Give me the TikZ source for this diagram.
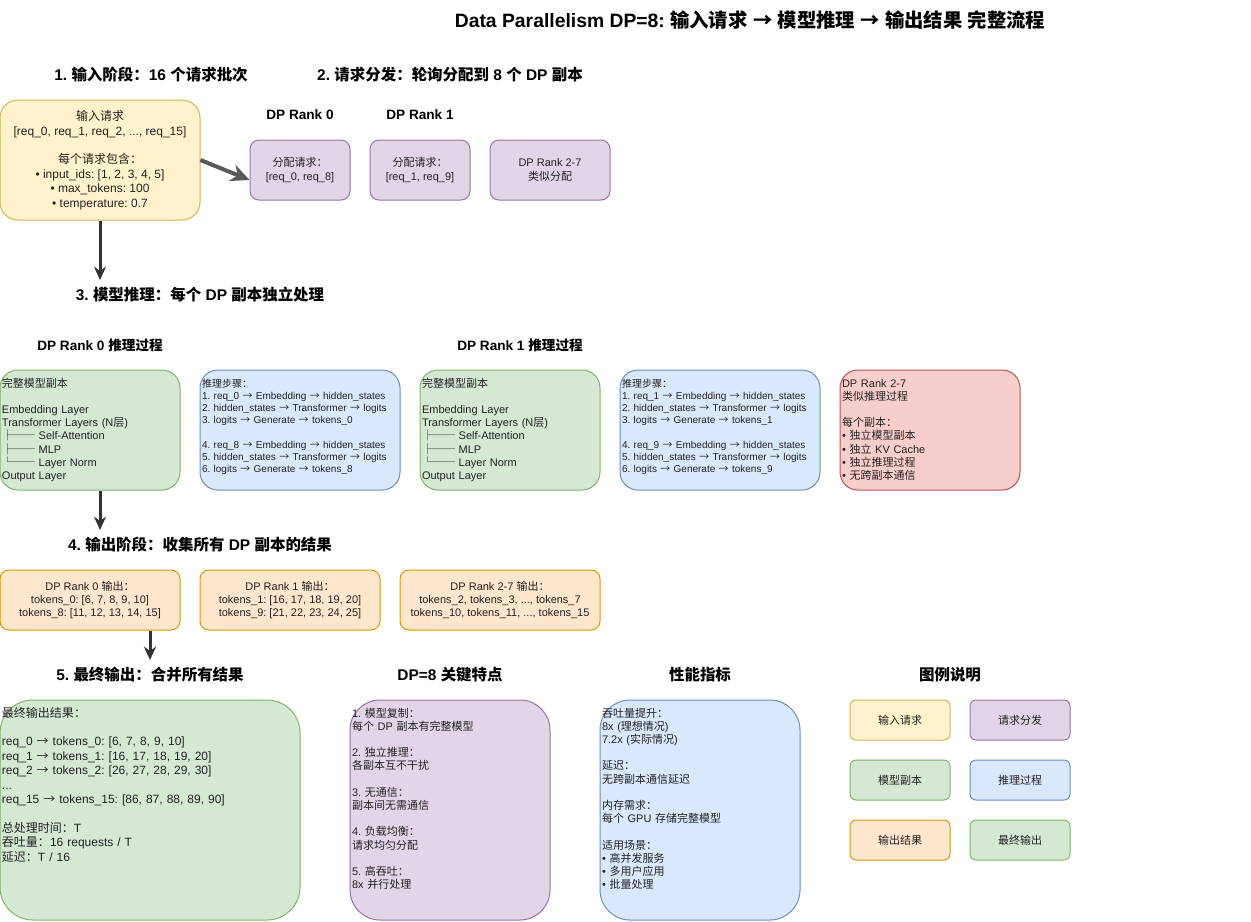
\documentclass[tikz,border=0pt]{standalone}
\usepackage{fontspec}
\setmainfont{Liberation Sans}
\newfontfamily\cjkfont{Noto Sans CJK SC}
\usepackage{tikz}
\usetikzlibrary{arrows.meta,positioning}
\usepackage{xcolor}
\frenchspacing

% CJK characters (arrows, box drawing) switch to the CJK family
\XeTeXinterchartokenstate=1
\newXeTeXintercharclass\cjkclass
\newcommand\setcjkrange[2]{\count255=#1
  \loop\ifnum\count255<#2 \XeTeXcharclass\count255=\cjkclass\advance\count255 by 1 \repeat}
\setcjkrange{"2190}{"2200}
\setcjkrange{"2500}{"2580}
\setcjkrange{"3000}{"3040}
\setcjkrange{"4E00}{"A000}
\setcjkrange{"FF00}{"FFF0}
\XeTeXinterchartoks 0 \cjkclass={\begingroup\cjkfont}
\XeTeXinterchartoks 4095 \cjkclass={\begingroup\cjkfont}
\XeTeXinterchartoks \cjkclass 0={\endgroup}
\XeTeXinterchartoks \cjkclass 4095={\endgroup}

\definecolor{yellowF}{HTML}{FFF2CC}\definecolor{yellowD}{HTML}{D6B656}
\definecolor{purpleF}{HTML}{E1D5E7}\definecolor{purpleD}{HTML}{9673A6}
\definecolor{greenF}{HTML}{D5E8D4}\definecolor{greenD}{HTML}{82B366}
\definecolor{blueF}{HTML}{DAE8FC}\definecolor{blueD}{HTML}{6C8EBF}
\definecolor{redF}{HTML}{F8CECC}\definecolor{redD}{HTML}{B85450}
\definecolor{orangeF}{HTML}{FFE6CC}\definecolor{orangeD}{HTML}{D79B00}
\definecolor{arrowD}{HTML}{333333}
\definecolor{arrowG}{HTML}{595959}
\definecolor{txtD}{HTML}{222222}

\newcommand\ttlfont{\fontsize{14.5}{17.4}\selectfont\bfseries}
\newcommand\hdfont{\fontsize{11.6}{13.9}\selectfont\bfseries}
\newcommand\subfont{\fontsize{10.2}{12.2}\selectfont\bfseries}
\newcommand\txtfont{\fontsize{9}{10.8}\selectfont}
\newcommand\smfont{\fontsize{8.25}{9.9}\selectfont}
\newcommand\stepfont{\fontsize{7.5}{9.2}\selectfont}

\begin{document}
\begin{tikzpicture}[>=Stealth,x=0.75pt,y=-0.75pt,
  box/.style={draw,line width=0.75pt,inner xsep=1.5pt,inner ysep=3pt,text=txtD},
  cbox/.style={box,align=center,minimum width=#1},
  lbox/.style={box,align=left,text width=#1,text height=9.75pt},
  mid/.style={lbox=#1,text depth=74.25pt,rounded corners=13.5pt},
  tall/.style={lbox=#1,text depth=149.25pt},
  hd/.style={font=\hdfont},
  flow/.style={-{Stealth[length=10pt,width=9pt]},line width=2.25pt,draw=arrowD}]
  \useasboundingbox (0,0) rectangle (1251,921);

  % Title
  \node[font=\ttlfont] (T) at (750,20)
    {Data Parallelism DP=8: 输入请求 → 模型推理 → 输出结果 完整流程};

  % Stage 1: input
  \node[hd] (h1) at (151,75) {1. 输入阶段：16 个请求批次};
  \node[cbox=150pt,minimum height=90pt,rounded corners=13.5pt,
        fill=yellowF,draw=yellowD,font=\txtfont]
    (in) at (100,160) {输入请求\\{}[req\_0, req\_1, req\_2, ..., req\_15]\\[10.8pt]每个请求包含：\\
      • input\_ids: [1, 2, 3, 4, 5]\\• max\_tokens: 100\\• temperature: 0.7};

  % Stage 2: dispatch
  \node[hd] (h2) at (450,75) {2. 请求分发：轮询分配到 8 个 DP 副本};
  \node[font=\subfont] (t0) at (300,115) {DP Rank 0};
  \node[font=\subfont] (t1) at (420,115) {DP Rank 1};
  \node[cbox=75pt,minimum height=45pt,rounded corners=6.75pt,
        fill=purpleF,draw=purpleD,font=\smfont]
    (r0) at (300,170) {分配请求：\\{}[req\_0, req\_8]};
  \node[cbox=75pt,minimum height=45pt,rounded corners=6.75pt,
        fill=purpleF,draw=purpleD,font=\smfont]
    (r1) at (420,170) {分配请求：\\{}[req\_1, req\_9]};
  \node[cbox=90pt,minimum height=45pt,rounded corners=6.75pt,
        fill=purpleF,draw=purpleD,font=\smfont]
    (r27) at (550,170) {DP Rank 2-7\\类似分配};

  % Stage 3: inference
  \coordinate (a1) at (100,280);
  \node[hd] (h3) at (200,295) {3. 模型推理：每个 DP 副本独立处理};
  \node[font=\subfont] (p0) at (100,345) {DP Rank 0 推理过程};
  \node[font=\subfont] (p1) at (520,345) {DP Rank 1 推理过程};
  \node[mid=132pt,fill=greenF,draw=greenD,font=\smfont] (m0) at (90,430)
    {完整模型副本\\[9.9pt]Embedding Layer\\Transformer Layers (N层)\\
      ├── Self-Attention\\├── MLP\\└── Layer Norm\\Output Layer};
  \node[mid=147pt,fill=blueF,draw=blueD,font=\stepfont] (s0) at (300,430)
    {推理步骤：\\1. req\_0 → Embedding → hidden\_states\\
      2. hidden\_states → Transformer → logits\\3. logits → Generate → tokens\_0\\[9.2pt]
      4. req\_8 → Embedding → hidden\_states\\5. hidden\_states → Transformer → logits\\
      6. logits → Generate → tokens\_8};
  \node[mid=132pt,fill=greenF,draw=greenD,font=\smfont] (m1) at (510,430)
    {完整模型副本\\[9.9pt]Embedding Layer\\Transformer Layers (N层)\\
      ├── Self-Attention\\├── MLP\\└── Layer Norm\\Output Layer};
  \node[mid=147pt,fill=blueF,draw=blueD,font=\stepfont] (s1) at (720,430)
    {推理步骤：\\1. req\_1 → Embedding → hidden\_states\\
      2. hidden\_states → Transformer → logits\\3. logits → Generate → tokens\_1\\[9.2pt]
      4. req\_9 → Embedding → hidden\_states\\5. hidden\_states → Transformer → logits\\
      6. logits → Generate → tokens\_9};
  \node[mid=132pt,fill=redF,draw=redD,font=\smfont] (rr) at (930,430)
    {DP Rank 2-7\\类似推理过程\\[9.9pt]每个副本：\\• 独立模型副本\\• 独立 KV Cache\\
      • 独立推理过程\\• 无跨副本通信};

  % Stage 4: outputs
  \coordinate (a2) at (100,530);
  \node[hd] (h4) at (200,545) {4. 输出阶段：收集所有 DP 副本的结果};
  \node[cbox=135pt,minimum height=45pt,rounded corners=6.75pt,
        fill=orangeF,draw=orangeD,font=\smfont]
    (o0) at (90,600) {DP Rank 0 输出：\\tokens\_0: [6, 7, 8, 9, 10]\\tokens\_8: [11, 12, 13, 14, 15]};
  \node[cbox=135pt,minimum height=45pt,rounded corners=6.75pt,
        fill=orangeF,draw=orangeD,font=\smfont]
    (o1) at (290,600) {DP Rank 1 输出：\\tokens\_1: [16, 17, 18, 19, 20]\\tokens\_9: [21, 22, 23, 24, 25]};
  \node[cbox=150pt,minimum height=45pt,rounded corners=6.75pt,
        fill=orangeF,draw=orangeD,font=\smfont]
    (o27) at (500,600) {DP Rank 2-7 输出：\\tokens\_2, tokens\_3, ..., tokens\_7\\
      tokens\_10, tokens\_11, ..., tokens\_15};

  % Stage 5: final output
  \coordinate (a3) at (150,660);
  \node[hd] (h5) at (150,675) {5. 最终输出：合并所有结果};
  \node[tall=222pt,rounded corners=24.75pt,fill=greenF,draw=greenD,font=\txtfont] (fin) at (150,810)
    {最终输出结果：\\[10.8pt]req\_0 → tokens\_0: [6, 7, 8, 9, 10]\\
      req\_1 → tokens\_1: [16, 17, 18, 19, 20]\\req\_2 → tokens\_2: [26, 27, 28, 29, 30]\\...\\
      req\_15 → tokens\_15: [86, 87, 88, 89, 90]\\[10.8pt]总处理时间：T\\
      吞吐量：16 requests / T\\延迟：T / 16};

  % Key features
  \node[hd] (h6) at (450,675) {DP=8 关键特点};
  \node[tall=147pt,rounded corners=22.5pt,fill=purpleF,draw=purpleD,font=\smfont] (feat) at (450,810)
    {1. 模型复制：\\每个 DP 副本有完整模型\\[9.9pt]2. 独立推理：\\各副本互不干扰\\[9.9pt]
      3. 无通信：\\副本间无需通信\\[9.9pt]4. 负载均衡：\\请求均匀分配\\[9.9pt]
      5. 高吞吐：\\8x 并行处理};

  % Performance
  \node[hd] (h7) at (700,675) {性能指标};
  \node[tall=147pt,rounded corners=22.5pt,fill=blueF,draw=blueD,font=\smfont] (perf) at (700,810)
    {吞吐量提升：\\8x (理想情况)\\7.2x (实际情况)\\[9.9pt]延迟：\\无跨副本通信延迟\\[9.9pt]
      内存需求：\\每个 GPU 存储完整模型\\[9.9pt]适用场景：\\• 高并发服务\\• 多用户应用\\• 批量处理};

  % Legend
  \node[hd] (h8) at (950,675) {图例说明};
  \node[cbox=75pt,minimum height=30pt,rounded corners=4.5pt,fill=yellowF,draw=yellowD,font=\smfont]
    (l1) at (900,720) {输入请求};
  \node[cbox=75pt,minimum height=30pt,rounded corners=4.5pt,fill=purpleF,draw=purpleD,font=\smfont]
    (l2) at (1020,720) {请求分发};
  \node[cbox=75pt,minimum height=30pt,rounded corners=4.5pt,fill=greenF,draw=greenD,font=\smfont]
    (l3) at (900,780) {模型副本};
  \node[cbox=75pt,minimum height=30pt,rounded corners=4.5pt,fill=blueF,draw=blueD,font=\smfont]
    (l4) at (1020,780) {推理过程};
  \node[cbox=75pt,minimum height=30pt,rounded corners=4.5pt,fill=orangeF,draw=orangeD,font=\smfont]
    (l5) at (900,840) {输出结果};
  \node[cbox=75pt,minimum height=30pt,rounded corners=4.5pt,fill=greenF,draw=greenD,font=\smfont]
    (l6) at (1020,840) {最终输出};

  % Arrows
  \draw[-{Stealth[length=14pt,width=13pt]},line width=3pt,draw=arrowG] (in.east) -- ([yshift=-7.5pt]r0.west);
  \draw[flow] (in) -- (a1);
  \draw[flow] (m0.south -| a2) -- (a2);
  \draw[flow] (o0.south -| a3) -- (a3);
\end{tikzpicture}
\end{document}
